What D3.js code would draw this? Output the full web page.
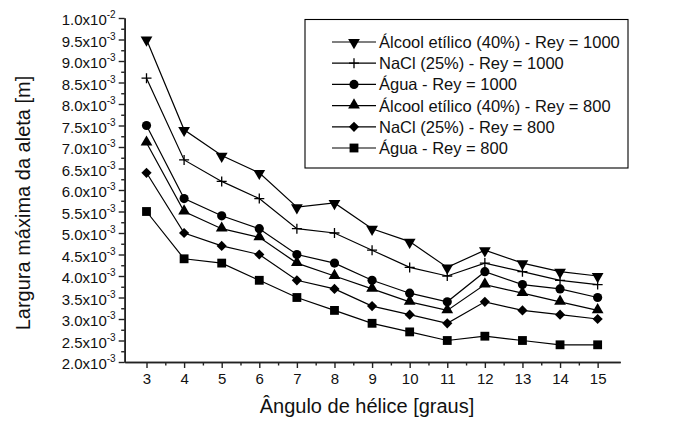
<!DOCTYPE html>
<html>
<head>
<meta charset="utf-8">
<script src="https://cdn.jsdelivr.net/npm/d3@7"></script>
<style>
html,body{margin:0;padding:0;background:#fff;}
svg{display:block;font-family:"Liberation Sans",Arial,sans-serif;}
</style>
</head>
<body>
<svg id="chart" width="683" height="422"></svg>
<script>
const angles = [3,4,5,6,7,8,9,10,11,12,13,14,15];
const seriesNames = [
  "Álcool etílico (40%) - Rey = 1000",
  "NaCl (25%) - Rey = 1000",
  "Água - Rey = 1000",
  "Álcool etílico (40%) - Rey = 800",
  "NaCl (25%) - Rey = 800",
  "Água - Rey = 800"
];
const seriesMarkers = ["triangleDown","plus","circle","triangleUp","diamond","square"];
const alcool1000 = [9.5,7.4,6.8,6.4,5.6,5.7,5.1,4.8,4.2,4.6,4.3,4.1,4.0];
const nacl1000   = [8.6,6.7,6.2,5.8,5.1,5.0,4.6,4.2,4.0,4.3,4.1,3.9,3.8];
const agua1000   = [7.5,5.8,5.4,5.1,4.5,4.3,3.9,3.6,3.4,4.1,3.8,3.7,3.5];
const alcool800  = [7.1,5.5,5.1,4.9,4.3,4.0,3.7,3.4,3.2,3.8,3.6,3.4,3.2];
const nacl800    = [6.4,5.0,4.7,4.5,3.9,3.7,3.3,3.1,2.9,3.4,3.2,3.1,3.0];
const agua800    = [5.5,4.4,4.3,3.9,3.5,3.2,2.9,2.7,2.5,2.6,2.5,2.4,2.4];
const seriesValues = [alcool1000,nacl1000,agua1000,alcool800,nacl800,agua800]; // x 1e-3
const yTickValues = [2.0,2.5,3.0,3.5,4.0,4.5,5.0,5.5,6.0,6.5,7.0,7.5,8.0,8.5,9.0,9.5,10.0]; // x 1e-3
const xTitle = "Ângulo de hélice [graus]";
const yTitle = "Largura máxima da aleta [m]";

const svg = d3.select("#chart");
const x = d3.scaleLinear().domain([2.42,15.6]).range([124.7,620.2]);
const y = d3.scaleLinear().domain([2.0e-3,1.0e-2]).range([362,18]);

// axes
const xAxis = d3.axisBottom(x).tickValues(angles).tickSize(6).tickSizeOuter(0).tickPadding(5).tickFormat(d3.format("d"));
const xMinor = d3.axisBottom(x).tickValues(d3.range(3.5,15.5,1)).tickSize(3.5).tickSizeOuter(0).tickFormat("");
const yMajor = yTickValues.map(v=>v*1e-3);
const yMinorVals = d3.range(2.25,10,0.5).map(v=>v*1e-3);
const yAxis = d3.axisLeft(y).tickValues(yMajor).tickSize(6).tickSizeOuter(0).tickPadding(3);
const yMinor = d3.axisLeft(y).tickValues(yMinorVals).tickSize(3.5).tickSizeOuter(0).tickFormat("");

const gx = svg.append("g").attr("transform","translate(0,362)").call(xAxis);
svg.append("g").attr("transform","translate(0,362)").call(xMinor);
const gy = svg.append("g").attr("transform","translate(124.7,0)").call(yAxis);
svg.append("g").attr("transform","translate(124.7,0)").call(yMinor);

svg.selectAll(".domain").attr("stroke","#222").attr("stroke-width",1.6);
svg.selectAll(".tick line").attr("stroke","#222").attr("stroke-width",1.4);
gx.selectAll(".tick text").attr("font-size",15).attr("fill","#111").attr("font-family","Liberation Sans, Arial, sans-serif");

gy.selectAll(".tick text").each(function(d){
  const exp = Math.floor(Math.log10(d)+1e-9);
  const mant = d/Math.pow(10,exp);
  const t = d3.select(this);
  t.text(null).attr("font-size",15).attr("fill","#111").attr("font-family","Liberation Sans, Arial, sans-serif").attr("x",-9).attr("dy","0.45em");
  t.append("tspan").text(mant.toFixed(1)+"x10");
  t.append("tspan").attr("dy",-7).attr("font-size",10).text(String(exp));
});

// titles
svg.append("text").attr("x",367).attr("y",413).attr("text-anchor","middle")
  .attr("font-size",20).attr("fill","#111").text(xTitle);
svg.append("text").attr("transform","translate(30,203) rotate(-90)").attr("text-anchor","middle")
  .attr("font-size",20).attr("fill","#111").text(yTitle);

// markers
function drawMarker(g, type){
  if(type==="plus"){
    g.append("path").attr("d","M-5,0H5M0,-5V5").attr("stroke","#000").attr("stroke-width",1.3).attr("fill","none");
  } else if(type==="circle"){
    g.append("path").attr("d",d3.symbol(d3.symbolCircle,66)()).attr("fill","#000");
  } else if(type==="square"){
    g.append("path").attr("d",d3.symbol(d3.symbolSquare,78)()).attr("fill","#000");
  } else if(type==="diamond"){
    g.append("path").attr("d",d3.symbol(d3.symbolSquare,52)()).attr("transform","rotate(45)").attr("fill","#000");
  } else if(type==="triangleUp"){
    g.append("path").attr("d",d3.symbol(d3.symbolTriangle,60)()).attr("transform","translate(0,-0.5)").attr("fill","#000");
  } else if(type==="triangleDown"){
    g.append("path").attr("d",d3.symbol(d3.symbolTriangle,60)()).attr("transform","translate(0,0.5) rotate(180)").attr("fill","#000");
  }
}

const line = d3.line().x((d,i)=>x(angles[i])).y(d=>y(d*1e-3));
seriesValues.forEach((vals,si)=>{
  svg.append("path").datum(vals).attr("d",line).attr("fill","none").attr("stroke","#000").attr("stroke-width",1.2);
  vals.forEach((v,i)=>{
    const g = svg.append("g").attr("transform",`translate(${x(angles[i])},${y(v*1e-3)})`);
    drawMarker(g, seriesMarkers[si]);
  });
});

// legend
const lg = svg.append("g");
lg.append("rect").attr("x",305).attr("y",19.5).attr("width",323).attr("height",148.5)
  .attr("fill","#fff").attr("stroke","#000").attr("stroke-width",1.1);
seriesNames.forEach((name,i)=>{
  const cy = 42 + i*21.2;
  lg.append("line").attr("x1",332).attr("x2",376).attr("y1",cy).attr("y2",cy).attr("stroke","#000").attr("stroke-width",1.2);
  const g = lg.append("g").attr("transform",`translate(354,${cy})`);
  drawMarker(g, seriesMarkers[i]);
  lg.append("text").attr("x",379).attr("y",cy).attr("dy","0.36em").attr("font-size",16.5).attr("fill","#111").text(name);
});
</script>
</body>
</html>
